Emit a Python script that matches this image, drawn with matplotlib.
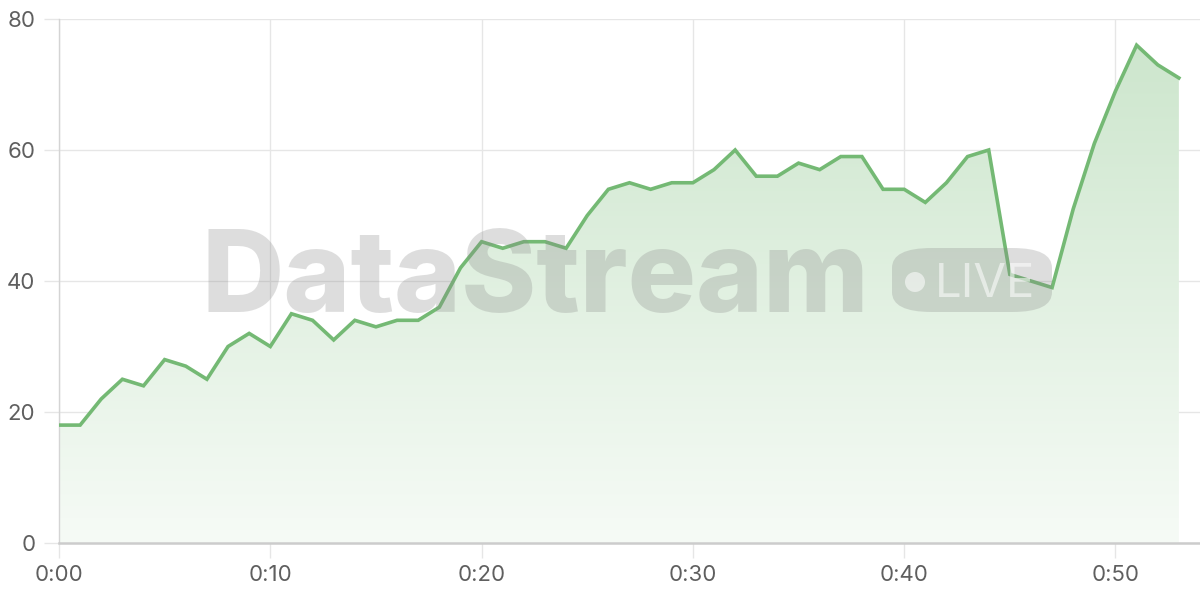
import numpy as np
import matplotlib.pyplot as plt
from matplotlib.colors import LinearSegmentedColormap
from matplotlib.patches import FancyBboxPatch, Polygon, Ellipse

minutes = list(range(54))
values = [18, 18, 22, 25, 24, 28, 27, 25, 30, 32,
          30, 35, 34, 31, 34, 33, 34, 34, 36, 42,
          46, 45, 46, 46, 45, 50, 54, 55, 54, 55,
          55, 57, 60, 56, 56, 58, 57, 59, 59, 54,
          54, 52, 55, 59, 60, 41, 40, 39, 51, 61,
          69, 76, 73, 71]
x_ticks = [0, 10, 20, 30, 40, 50]
x_labels = ["0:00", "0:10", "0:20", "0:30", "0:40", "0:50"]
y_ticks = [0, 20, 40, 60, 80]

line_color = "#74b974"
grid_color = "#e6e6e6"
text_color = "#5f5f5f"

plt.rcParams['font.family'] = ['Inter', 'DejaVu Sans']

fig = plt.figure(figsize=(12, 6), dpi=100)
ax = fig.add_axes([59 / 1200, 1 - 543 / 600, 1 - 59 / 1200, (543 - 19) / 600])
ax.set_xlim(0, 54)
ax.set_ylim(0, 80)

# gradient fill under the line
grad = np.linspace(0, 1, 256).reshape(-1, 1)
cmap = LinearSegmentedColormap.from_list("g", ["#f6fbf6", "#cde6cd"])
img = ax.imshow(grad, extent=[0, 54, 0, max(values)], origin="lower",
                cmap=cmap, aspect="auto", zorder=1)
verts = [(minutes[0], 0)] + list(zip(minutes, values)) + [(minutes[-1], 0)]
clip = Polygon(verts, closed=True, transform=ax.transData, facecolor="none", edgecolor="none")
ax.add_patch(clip)
img.set_clip_path(clip)

ax.plot(minutes, values, color=line_color, lw=2.6, zorder=5, solid_joinstyle="miter")

# grid and axes
ax.set_xticks(x_ticks)
ax.set_xticklabels(x_labels)
ax.set_yticks(y_ticks)
ax.grid(True, color=grid_color, lw=1.0, zorder=0)
ax.set_axisbelow(True)
for s in ["top", "right"]:
    ax.spines[s].set_visible(False)
ax.spines["left"].set_color("#d4d4d4")
ax.spines["left"].set_linewidth(1.0)
ax.spines["bottom"].set_color("#cccccc")
ax.spines["bottom"].set_linewidth(1.8)
ax.tick_params(axis="both", colors=grid_color, length=11, width=1.0,
               labelcolor=text_color, labelsize=16)
ax.tick_params(axis="x", pad=5)
ax.tick_params(axis="y", pad=6)

# watermark
fig.text(535 / 1200, 1 - 312 / 600, "DataStream", fontsize=82, fontweight="heavy",
         color="#888888", alpha=0.28, ha="center", va="baseline", zorder=3)
badge = FancyBboxPatch((892 / 1200, 1 - 312 / 600), 160 / 1200, 64 / 600,
                       boxstyle="round,pad=0,rounding_size=0.033",
                       transform=fig.transFigure, facecolor="#888888",
                       edgecolor="none", alpha=0.28, zorder=3)
fig.patches.append(badge)
dot = Ellipse((915 / 1200, 1 - 282 / 600), 20 / 1200, 20 / 600, transform=fig.transFigure,
              facecolor="white", edgecolor="none", alpha=0.55, zorder=4)
fig.patches.append(dot)
fig.text(985 / 1200, 1 - 297 / 600, "LIVE", fontsize=34, color="white", alpha=0.55,
         ha="center", va="baseline", zorder=4)

fig.savefig("out.png", dpi=100)
